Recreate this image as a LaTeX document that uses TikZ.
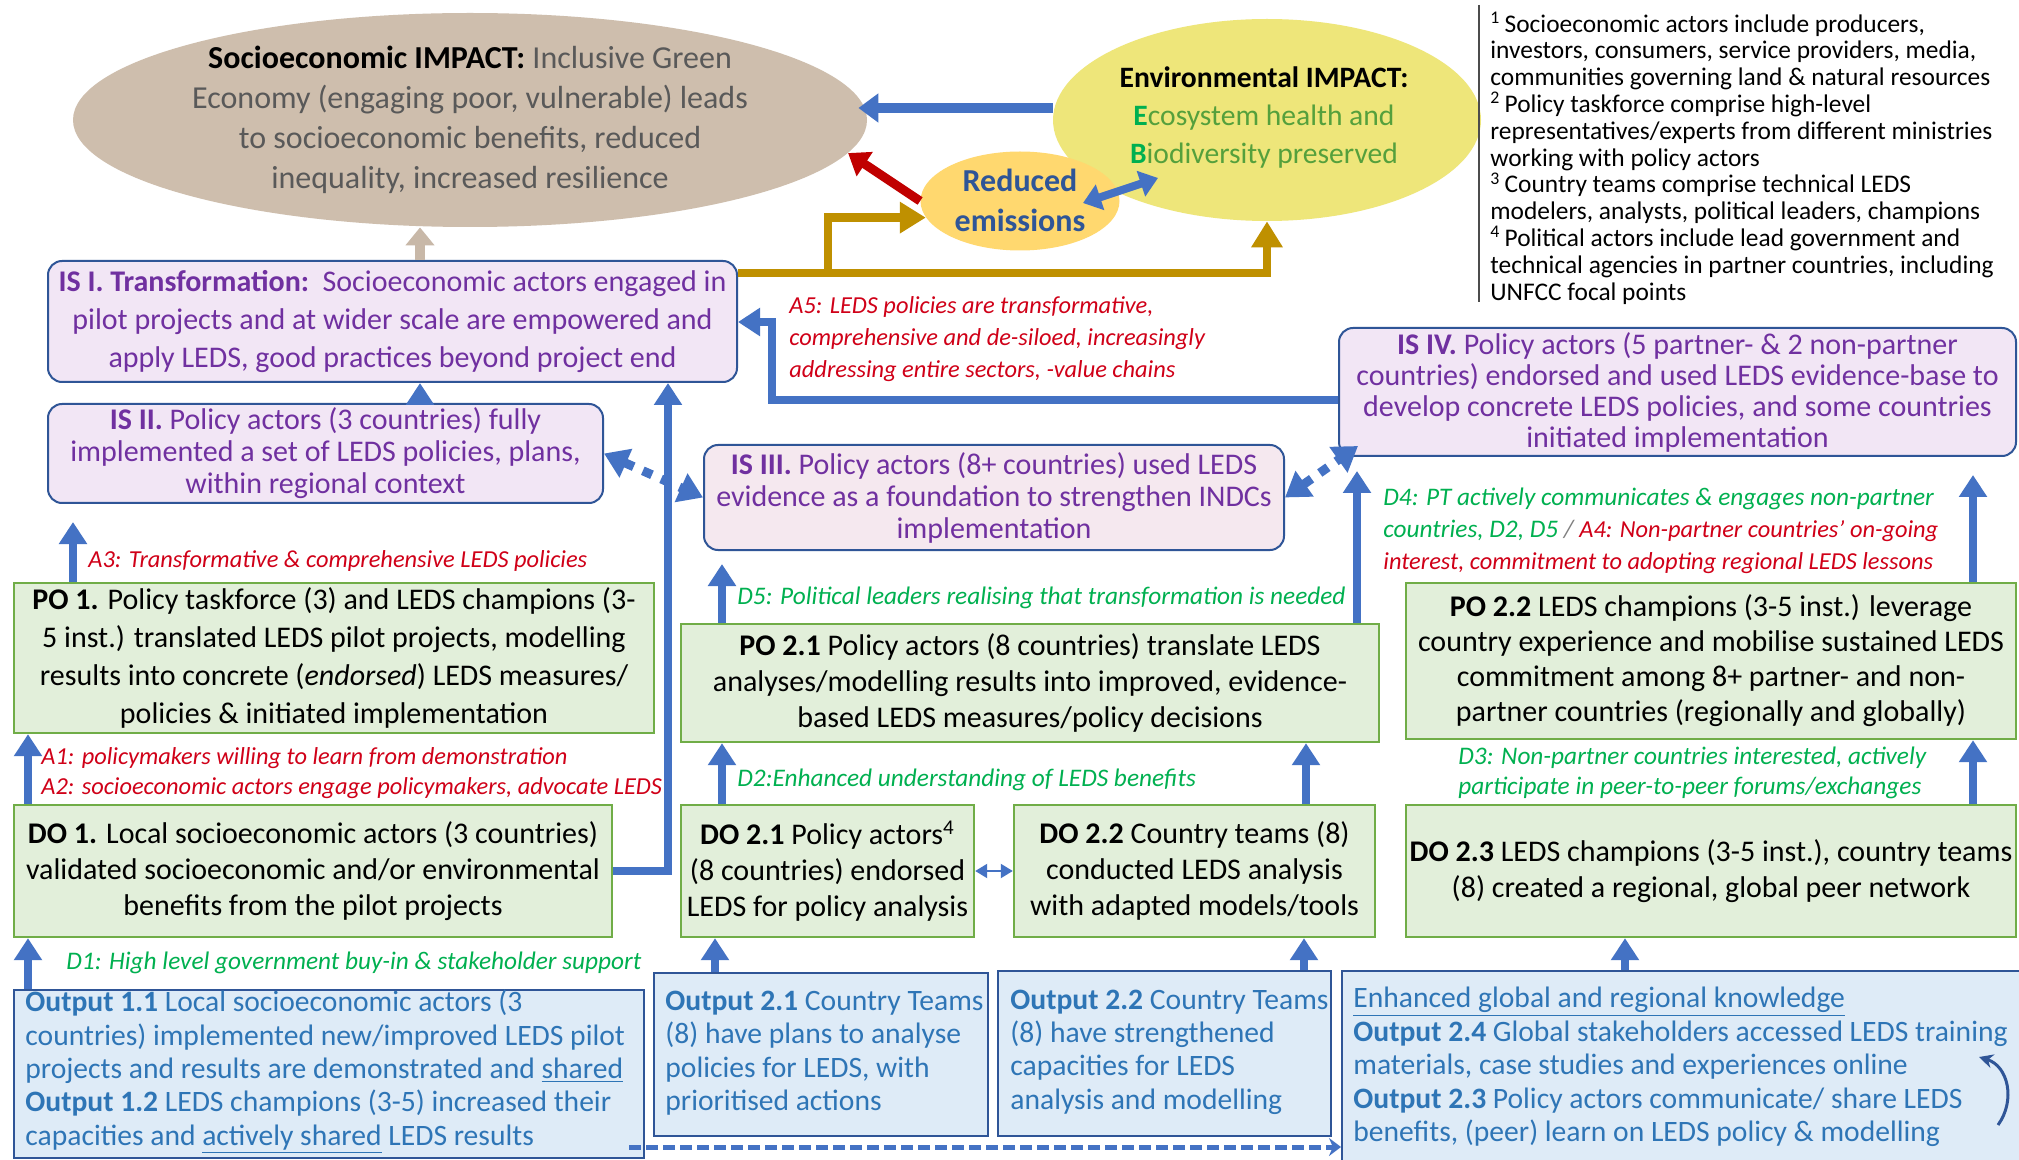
\documentclass[tikz,border=0pt]{standalone}
\usepackage{fontspec}
\setmainfont{Carlito}
\usetikzlibrary{arrows.meta,shapes.geometric,calc}
\definecolor{arrowblue}{HTML}{4472C4}
\definecolor{isborder}{HTML}{2F5597}
\definecolor{isfill}{HTML}{F2E6F5}
\definecolor{isfillb}{HTML}{F5E8EF}
\definecolor{ispurple}{HTML}{7030A0}
\definecolor{greenfill}{HTML}{E2EFDA}
\definecolor{greenborder}{HTML}{70AD47}
\definecolor{outfill}{HTML}{DEEBF7}
\definecolor{outborder}{HTML}{2F5597}
\definecolor{outtxt}{HTML}{2E75B6}
\definecolor{labred}{HTML}{D00018}
\definecolor{labgreen}{HTML}{00B050}
\definecolor{sociofill}{HTML}{CEBEAD}
\definecolor{sociotxt}{HTML}{595959}
\definecolor{envfill}{HTML}{EEE67A}
\definecolor{envgreen}{HTML}{55A03C}
\definecolor{brightgreen}{HTML}{00B050}
\definecolor{redufill}{HTML}{FFD86F}
\definecolor{redutxt}{HTML}{2F5597}
\definecolor{redarrowc}{HTML}{C00000}
\definecolor{cgold}{HTML}{BF9000}
\definecolor{ctan}{HTML}{C8B8A8}
\definecolor{curvc}{HTML}{2F5597}
\newcommand{\redsize}{\fontsize{12.2}{16}\selectfont}
\newcommand{\greensize}{\fontsize{12.65}{16}\selectfont}
\tikzset{
  isbox/.style={draw=isborder, fill=isfill, line width=1pt, rounded corners=7pt, text=ispurple, align=center, inner sep=0pt},
  pobox/.style={draw=greenborder, fill=greenfill, line width=1.2pt, align=center, inner sep=0pt},
  outbox/.style={draw=outborder, fill=outfill, line width=1pt, inner sep=0pt},
  outtext/.style={text=outtxt, align=left, font=\fontsize{14.8}{16.7}\selectfont, inner sep=0pt, anchor=west},
  redlab/.style={text=labred, font=\redsize\itshape, align=left, anchor=west, inner sep=0pt},
  greenlab/.style={text=labgreen, font=\greensize\itshape, align=left, anchor=west, inner sep=0pt},
  barrow/.style={draw=arrowblue, line width=4pt, -{Triangle[length=11pt,width=13.5pt]}},
  bigblue/.style={draw=arrowblue, line width=5pt, -{Triangle[length=10pt,width=14pt]}},
  redarr/.style={draw=redarrowc, line width=4.5pt, -{Triangle[length=10pt,width=14pt]}},
  bluedbl/.style={draw=arrowblue, line width=4pt, {Triangle[length=9pt,width=13pt]}-{Triangle[length=9pt,width=13pt]}},
  goldarr/.style={draw=cgold, line width=4.2pt, -{Triangle[length=13pt,width=15pt]}},
  goldline/.style={draw=cgold, line width=4.2pt},
  tanarr/.style={draw=ctan, line width=5pt, -{Triangle[length=9pt,width=14pt]}},
  dashdbl/.style={draw=arrowblue, line width=4.5pt, dash pattern=on 5pt off 5pt, {Triangle[length=12pt,width=15pt]}-{Triangle[length=12pt,width=15pt]}},
  thindbl/.style={draw=arrowblue, line width=1pt, {Triangle[length=6pt,width=7pt]}-{Triangle[length=6pt,width=7pt]}},
  dashout/.style={draw=arrowblue, line width=2.5pt, dash pattern=on 6pt off 2.5pt, -{Stealth[length=6pt,width=9pt]}},
  curvarr/.style={draw=curvc, line width=1.5pt, -{Stealth[length=7pt,width=7pt]}},
}
\begin{document}
\begin{tikzpicture}[x=0.5pt,y=-0.5pt]
\useasboundingbox (0,0) rectangle (2019,1160);
\fill[white] (0,0) rectangle (2019,1160);

% helper coordinates
\coordinate (x28) at (28,0);
\coordinate (x73) at (73,0);
\coordinate (x420) at (420,0);
\coordinate (x668) at (668,0);
\coordinate (x715) at (715,0);
\coordinate (x722) at (722,0);
\coordinate (x1304) at (1304,0);
\coordinate (x1306) at (1306,0);
\coordinate (x1357) at (1357,0);
\coordinate (x1625) at (1625,0);
\coordinate (x1973) at (1973,0);
\coordinate (y108) at (0,108);
\coordinate (y273) at (0,273);
\coordinate (y400) at (0,400);
\coordinate (y1147) at (0,1147);
\coordinate (gb) at (828,219);
\coordinate (a5t) at (772,322);
\coordinate (c1) at (1998,1125);
\coordinate (c2) at (1979,1057);
\coordinate (fn1) at (1479,5);
\coordinate (fn2) at (1479,302);

% impact ellipses
\node[ellipse, fill=sociofill, minimum width=397pt, minimum height=107pt, inner sep=0pt] (socio) at (470,120) {};
\node[font=\fontsize{16}{20}\selectfont, text=sociotxt, align=center] (sociot) at (470,120) {\textcolor{black}{\textbf{Socioeconomic IMPACT:}} Inclusive Green\\Economy (engaging poor, vulnerable) leads\\to socioeconomic benefits, reduced\\inequality, increased resilience};

\node[ellipse, fill=envfill, minimum width=214pt, minimum height=101pt, inner sep=0pt] (env) at (1267,120) {};
\node[font=\fontsize{14.8}{19}\selectfont, text=envgreen, align=center] (envt) at (1264,118) {\textcolor{black}{\textbf{Environmental IMPACT:}}\\\textbf{\textcolor{brightgreen}{E}}cosystem health and\\\textbf{\textcolor{brightgreen}{B}}iodiversity preserved};

\node[ellipse, fill=redufill, minimum width=99.5pt, minimum height=49.5pt, inner sep=0pt] (redu) at (1020,201) {};
\node[font=\fontsize{16}{20}\selectfont\bfseries, text=redutxt, align=center] (redut) at (1020,200) {Reduced\\emissions};

% footnotes
\draw[black!70, line width=0.8pt] (fn1) -- (fn2);
\node[font=\fontsize{12.7}{13.4}\selectfont, align=left, anchor=west, inner sep=0pt] (fn) at (1490,158) {\textsuperscript{1}\,Socioeconomic actors include producers,\\investors, consumers, service providers, media,\\communities governing land \& natural resources\\\textsuperscript{2}\,Policy taskforce comprise high-level\\representatives/experts from different ministries\\working with policy actors\\\textsuperscript{3}\,Country teams comprise technical LEDS\\modelers, analysts, political leaders, champions\\\textsuperscript{4}\,Political actors include lead government and\\technical agencies in partner countries, including\\UNFCC focal points};

% IS boxes
\node[isbox, font=\fontsize{15}{19}\selectfont, minimum width=344.5pt, minimum height=60.5pt] (isI) at (392.5,321.5) {\textbf{IS I. Transformation:}\ \ Socioeconomic actors engaged in\\pilot projects and at wider scale are empowered and\\apply LEDS, good practices beyond project end};
\node[isbox, font=\fontsize{15}{16}\selectfont, minimum width=277.5pt, minimum height=49.5pt] (isII) at (325.5,453.5) {\textbf{IS II.} Policy actors (3 countries) fully\\implemented a set of LEDS policies, plans,\\within regional context};
\node[isbox, fill=isfillb, font=\fontsize{15}{16}\selectfont, minimum width=290pt, minimum height=52.5pt] (isIII) at (994,497.5) {\textbf{IS III.} Policy actors (8+ countries) used LEDS\\evidence as a foundation to strengthen INDCs\\implementation};
\node[isbox, font=\fontsize{15}{15.5}\selectfont, minimum width=338.5pt, minimum height=64pt] (isIV) at (1677.5,392) {\textbf{IS IV.} Policy actors (5 partner- \& 2 non-partner\\countries) endorsed and used LEDS evidence-base to\\develop concrete LEDS policies, and some countries\\initiated implementation};

% PO boxes
\node[pobox, font=\fontsize{15}{19}\selectfont, minimum width=320pt, minimum height=75pt] (po1) at (334,658) {\textbf{PO 1.} Policy taskforce (3) and LEDS champions (3-\\5 inst.) translated LEDS pilot projects, modelling\\results into concrete (\textit{endorsed}) LEDS measures/\\policies \& initiated implementation};
\node[pobox, font=\fontsize{15}{18}\selectfont, minimum width=349pt, minimum height=59pt] (po21) at (1030,683) {\textbf{PO 2.1} Policy actors (8 countries) translate LEDS\\analyses/modelling results into improved, evidence-\\based LEDS measures/policy decisions};
\node[pobox, font=\fontsize{15}{17.5}\selectfont, minimum width=305pt, minimum height=78pt] (po22) at (1711,661) {\textbf{PO 2.2} LEDS champions (3-5 inst.) leverage\\country experience and mobilise sustained LEDS\\commitment among 8+ partner- and non-\\partner countries (regionally and globally)};

% DO boxes
\node[pobox, font=\fontsize{15}{18}\selectfont, minimum width=299pt, minimum height=66pt] (do1) at (313,871) {\textbf{DO 1.} Local socioeconomic actors (3 countries)\\validated socioeconomic and/or environmental\\benefits from the pilot projects};
\node[pobox, font=\fontsize{15}{18}\selectfont, minimum width=146.5pt, minimum height=66pt] (do21) at (827.5,871) {\textbf{DO 2.1} Policy actors\textsuperscript{4}\\(8 countries) endorsed\\LEDS for policy analysis};
\node[pobox, font=\fontsize{15}{18}\selectfont, minimum width=180.5pt, minimum height=66pt] (do22) at (1194.5,871) {\textbf{DO 2.2} Country teams (8)\\conducted LEDS analysis\\with adapted models/tools};
\node[pobox, font=\fontsize{15}{18}\selectfont, minimum width=305pt, minimum height=66pt] (do23) at (1711,871) {\textbf{DO 2.3} LEDS champions (3-5 inst.), country teams\\(8) created a regional, global peer network};

% Output boxes
\node[outbox, minimum width=315pt, minimum height=84pt] (out1) at (329,1074) {};
\node[outtext] (out1t) at (25,1072) {\textbf{Output 1.1} Local socioeconomic actors (3\\countries) implemented new/improved LEDS pilot\\projects and results are demonstrated and \underline{shared}\\\textbf{Output 1.2} LEDS champions (3-5) increased their\\capacities and \underline{actively shared} LEDS results};
\node[outbox, minimum width=167pt, minimum height=81.5pt] (out21) at (821,1054.5) {};
\node[outtext] (out21t) at (665,1053) {\textbf{Output 2.1} Country Teams\\(8) have plans to analyse\\policies for LEDS, with\\prioritised actions};
\node[outbox, minimum width=166.5pt, minimum height=82.5pt] (out22) at (1164.5,1053.5) {};
\node[outtext] (out22t) at (1010,1052) {\textbf{Output 2.2} Country Teams\\(8) have strengthened\\capacities for LEDS\\analysis and modelling};
\node[outbox, minimum width=344pt, minimum height=102pt] (out234) at (1686,1073) {};
\node[outtext] (out234t) at (1353,1067) {\underline{Enhanced global and regional knowledge}\\\textbf{Output 2.4} Global stakeholders accessed LEDS training\\materials, case studies and experiences online\\\textbf{Output 2.3} Policy actors communicate/ share LEDS\\benefits, (peer) learn on LEDS policy \& modelling};

% labels
\node[redlab] (a5) at (789,339) {A5: LEDS policies are transformative,\\comprehensive and de-siloed, increasingly\\addressing entire sectors, -value chains};
\node[redlab] (a3) at (88,561) {A3: Transformative \& comprehensive LEDS policies};
\node[redlab, font=\fontsize{12.2}{15}\selectfont\itshape] (a12) at (41,773) {A1: policymakers willing to learn from demonstration\\A2: socioeconomic actors engage policymakers, advocate LEDS};
\node[greenlab] (d1) at (66,963) {D1: High level government buy-in \& stakeholder support};
\node[greenlab] (d5) at (737,598) {D5: Political leaders realising that transformation is needed};
\node[greenlab] (d2) at (737,780) {D2:Enhanced understanding of LEDS benefits};
\node[greenlab] (d4) at (1383,531) {D4: PT actively communicates \& engages non-partner\\countries, D2, D5 \textcolor{gray}{/} {\redsize\textcolor{labred}{A4: Non-partner countries’ on-going}}\\{\redsize\textcolor{labred}{interest, commitment to adopting regional LEDS lessons}}};
\node[greenlab, font=\fontsize{12.65}{15}\selectfont\itshape] (d3) at (1458,773) {D3: Non-partner countries interested, actively\\participate in peer-to-peer forums/exchanges};

% connectors top
\draw[tanarr] (isI.north -| x420) -- (socio.south -| x420);
\draw[bigblue] (env.west |- y108) -- ($(socio.east |- y108)+(-9,0)$);
\draw[redarr] (redu.west) -- (socio.-5);
\draw[bluedbl] ($(redu.center)+(63,2)$) -- ($(env.center)+(-109,58)$);
\draw[goldline] (gb |- y273) -- (gb);
\draw[goldarr] (gb) -- (redu.190 -| gb) -- (redu.190);
\draw[goldarr] (isI.east |- y273) -| (env.south);
\draw[barrow] (isIV.west |- y400) -| (a5t) -- (isI.east |- a5t);
\draw[barrow] (do1.east) -| (isI.south -| x668);
\draw[barrow] (isII.north -| x420) -- (isI.south -| x420);
\draw[barrow, shorten >=9pt] (po1.north -| x73) -- (isII.south -| x73);
\draw[barrow] (do1.north -| x28) -- (po1.south -| x28);
\draw[barrow] (out1.north -| x28) -- (do1.south -| x28);
\draw[barrow, shorten >=6.5pt] (po21.north -| x722) -- (isIII.south -| x722);
\draw[barrow] (do21.north -| x722) -- (po21.south -| x722);
\draw[barrow] (do22.north -| x1306) -- (po21.south -| x1306);
\draw[barrow, shorten >=7pt] (po21.north -| x1357) -- (isIV.south -| x1357);
\draw[barrow, shorten >=9pt] (po22.north -| x1973) -- (isIV.south -| x1973);
\draw[barrow] (do23.north -| x1973) -- (po22.south -| x1973);
\draw[barrow] (out21.north -| x715) -- (do21.south -| x715);
\draw[barrow] (out22.north -| x1304) -- (do22.south -| x1304);
\draw[barrow] (out234.north -| x1625) -- (do23.south -| x1625);
\draw[thindbl] (do21.east) -- (do22.west);
\draw[dashdbl] (isII.east) -- (isIII.west);
\draw[dashdbl] (isIII.east) -- ($(isIV.south west)+(20,-11)$);
\draw[dashout] ($(out1.east |- y1147)+(-16,0)$) -- (out234.west |- y1147);
\draw[curvarr] (c1) .. controls (2016,1100) and (2008,1066) .. (c2);
\end{tikzpicture}
\end{document}
